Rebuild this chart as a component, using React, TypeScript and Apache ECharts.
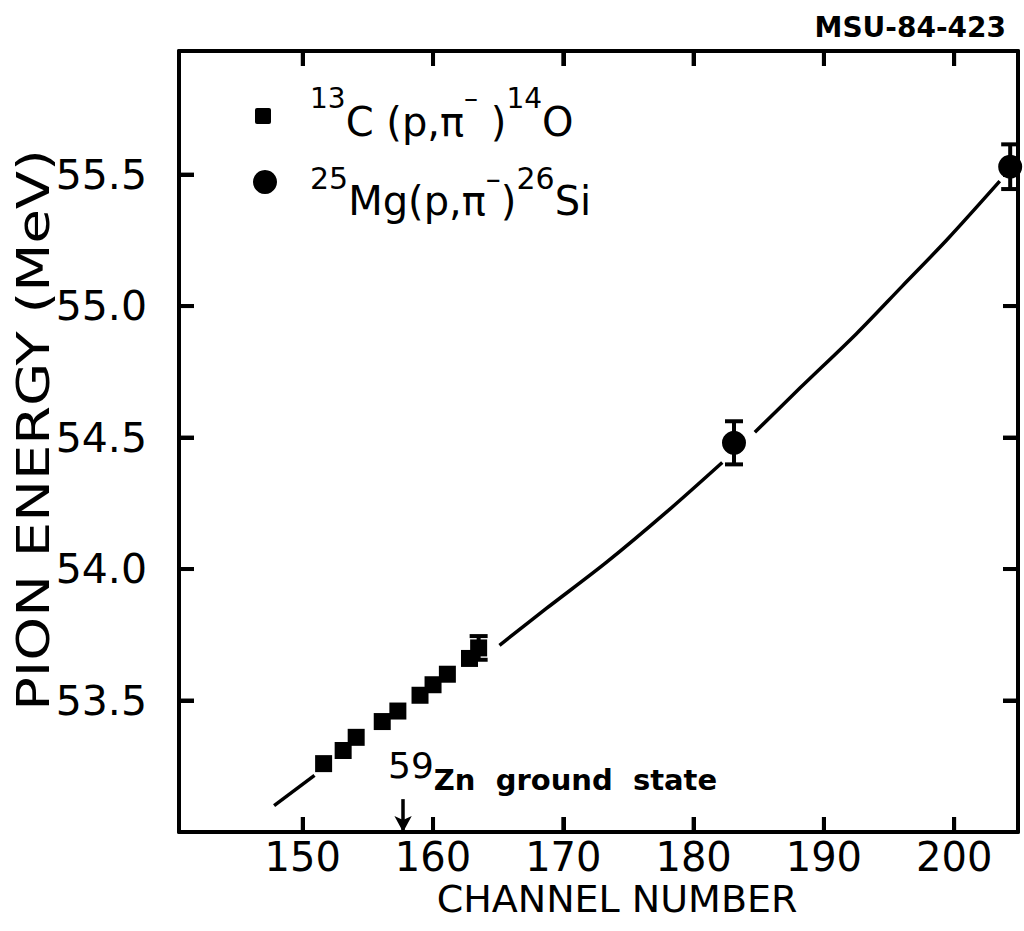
import React, { useEffect, useRef } from "react";
import * as echarts from "echarts";

const FONT = "DejaVu Sans";

const xTicks = [150, 160, 170, 180, 190, 200];
const yTicks = [53.5, 54.0, 54.5, 55.0, 55.5];

// 13C(p,pi-)14O calibration points
const carbonChannel = [151.6, 153.1, 154.1, 156.1, 157.3, 159.0, 160.0, 161.1, 162.8, 163.5];
const carbonEnergy = [53.26, 53.31, 53.36, 53.42, 53.46, 53.52, 53.56, 53.60, 53.66, 53.70];
const carbonError = [0, 0, 0, 0, 0, 0, 0, 0, 0, 0.045];

// 25Mg(p,pi-)26Si calibration points
const mgChannel = [183.1, 204.3];
const mgEnergy = [54.48, 55.53];
const mgError = [0.082, 0.085];

// fitted calibration curve (drawn in three pieces)
const fitSeg1Channel = [147.8, 150.9];
const fitSeg1Energy = [53.1, 53.215];
const fitSeg2Channel = [165.1, 168.7, 173.3, 178.0, 182.2];
const fitSeg2Energy = [53.71, 53.85, 54.025, 54.22, 54.405];
const fitSeg3Channel = [184.7, 188.2, 192.5, 196.0, 199.5, 203.5];
const fitSeg3Energy = [54.52, 54.69, 54.895, 55.075, 55.255, 55.475];

// 59Zn ground state marker
const znChannel = 157.7;

const X_MIN = 140.5;
const X_MAX = 204.9;
const Y_MIN = 53.0;
const Y_MAX = 55.97;

const zip = (a: number[], b: number[]) => a.map((v, i) => [v, b[i]]);
const isTick = (list: number[], v: number) => list.some((t) => Math.abs(t - v) < 1e-6);

export default function App() {
  const ref = useRef<HTMLDivElement>(null);
  useEffect(() => {
    if (!ref.current) return;
    const chart = echarts.init(ref.current, undefined, { renderer: "svg" });
    const axisLine = { show: true, onZero: false, lineStyle: { color: "#000", width: 4 } };
    const tick = { show: true, inside: true, length: 15, lineStyle: { color: "#000", width: 4 } };
    const xBase = { type: "value", min: X_MIN, max: X_MAX, splitNumber: 6, splitLine: { show: false }, axisTick: tick };
    const yBase = { type: "value", min: Y_MIN, max: Y_MAX, interval: 0.5, splitLine: { show: false }, axisTick: tick };
    const TL = 15;
    // tick length in data units (plot is 781 px tall for 2.97 MeV, 839 px wide for 64.4 channels)
    const dy = (TL * (Y_MAX - Y_MIN)) / 781;
    const dx = (TL * (X_MAX - X_MIN)) / 839;

    const fitSeries = [
      zip(fitSeg1Channel, fitSeg1Energy),
      zip(fitSeg2Channel, fitSeg2Energy),
      zip(fitSeg3Channel, fitSeg3Energy),
    ].map((d) => ({
      type: "line",
      data: d,
      smooth: 0.3,
      showSymbol: false,
      symbol: "none",
      lineStyle: { color: "#000", width: 3.5 },
      silent: true,
      z: 2,
    }));

    const errData = [
      ...carbonChannel.map((c, i) => [c, carbonEnergy[i], carbonError[i]]),
      ...mgChannel.map((c, i) => [c, mgEnergy[i], mgError[i]]),
      ...xTicks.map((v) => [v, 54.0, -1]),
      ...yTicks.map((v) => [170, v, -2]),
    ];

    const tickLines: any[] = [];
    xTicks.forEach((v) => {
      tickLines.push([{ coord: [v, Y_MIN] }, { coord: [v, Y_MIN + dy] }]);
      tickLines.push([{ coord: [v, Y_MAX] }, { coord: [v, Y_MAX - dy] }]);
    });
    yTicks.forEach((v) => {
      tickLines.push([{ coord: [X_MIN, v] }, { coord: [X_MIN + dx, v] }]);
      tickLines.push([{ coord: [X_MAX, v] }, { coord: [X_MAX - dx, v] }]);
    });

    chart.setOption({
      animation: false,
      backgroundColor: "#fff",
      grid: { left: 179, right: 6, top: 51, bottom: 99, containLabel: false },
      xAxis: [
        {
          ...xBase,
          position: "bottom",
          axisLine,
          axisLabel: {
            show: true,
            showMinLabel: false,
            showMaxLabel: false,
            formatter: (v: number) => (isTick(xTicks, v) ? String(Math.round(v)) : ""),
            fontSize: 40,
            lineHeight: 40,
            fontFamily: FONT,
            color: "#000",
            margin: 5,
          },
        },
        { ...xBase, position: "top", axisLine, axisLabel: { show: false } },
      ],
      yAxis: [
        {
          ...yBase,
          position: "left",
          axisLine,
          axisLabel: {
            show: true,
            showMinLabel: false,
            showMaxLabel: false,
            formatter: (v: number) => (isTick(yTicks, v) ? v.toFixed(1) : ""),
            fontSize: 41,
            fontFamily: FONT,
            color: "#000",
            margin: 32,
          },
        },
        { ...yBase, position: "right", axisLine, axisLabel: { show: false } },
      ],
      series: [
        ...fitSeries,
        {
          type: "custom",
          clip: false,
          silent: true,
          z: 3,
          data: errData,
          encode: { x: 0, y: 1 },
          renderItem: (_p: any, api: any) => {
            const x = api.value(0);
            const y = api.value(1);
            const e = api.value(2);
            if (!e) return null;
            const st = { stroke: "#000", lineWidth: 4 };
            if (e < -1.5) {
              const l = api.coord([X_MIN, y]);
              const r = api.coord([X_MAX, y]);
              return {
                type: "group",
                children: [
                  { type: "line", shape: { x1: l[0], y1: l[1], x2: l[0] + TL, y2: l[1] }, style: st },
                  { type: "line", shape: { x1: r[0], y1: r[1], x2: r[0] - TL, y2: r[1] }, style: st },
                ],
              };
            }
            if (e < 0) {
              const b = api.coord([x, Y_MIN]);
              const t = api.coord([x, Y_MAX]);
              return {
                type: "group",
                children: [
                  { type: "line", shape: { x1: b[0], y1: b[1], x2: b[0], y2: b[1] - TL }, style: st },
                  { type: "line", shape: { x1: t[0], y1: t[1], x2: t[0], y2: t[1] + TL }, style: st },
                ],
              };
            }
            const t = api.coord([x, y + e]);
            const b = api.coord([x, y - e]);
            const hw = 9;
            return {
              type: "group",
              children: [
                { type: "line", shape: { x1: t[0], y1: t[1], x2: b[0], y2: b[1] }, style: st },
                { type: "line", shape: { x1: t[0] - hw, y1: t[1], x2: t[0] + hw, y2: t[1] }, style: st },
                { type: "line", shape: { x1: b[0] - hw, y1: b[1], x2: b[0] + hw, y2: b[1] }, style: st },
              ],
            };
          },
        },
        {
          name: "13C",
          type: "scatter",
          symbol: "rect",
          symbolSize: 17,
          itemStyle: { color: "#000", opacity: 1, borderRadius: 2 },
          data: zip(carbonChannel, carbonEnergy),
          z: 4,
          silent: true,
          markLine: {
            silent: true,
            symbol: ["none", "arrow"],
            symbolSize: [13, 16],
            label: { show: false },
            lineStyle: { color: "#000", width: 3.5, type: "solid", opacity: 1 },
            data: [[{ coord: [znChannel, 53.125] }, { coord: [znChannel, Y_MIN] }]],
          },
        },
        {
          name: "25Mg",
          type: "scatter",
          symbol: "circle",
          symbolSize: 24,
          itemStyle: { color: "#000", opacity: 1 },
          data: zip(mgChannel, mgEnergy),
          z: 4,
          silent: true,
          clip: false,
          markLine: {
            silent: true,
            symbol: ["none", "none"],
            label: { show: false },
            lineStyle: { color: "#000", width: 4, type: "solid", opacity: 1 },
            data: tickLines,
          },
        },
      ],
      graphic: [
        {
          type: "text",
          right: 18,
          top: 13,
          style: { text: "MSU-84-423", font: `bold 28px "${FONT}"`, fill: "#000" },
        },
        {
          type: "text",
          x: 617,
          y: 899,
          style: {
            text: "CHANNEL NUMBER",
            font: `38px "${FONT}"`,
            fill: "#000",
            align: "center",
            verticalAlign: "middle",
          },
        },
        {
          type: "text",
          x: 34,
          y: 430,
          rotation: Math.PI / 2,
          scaleX: 1.27,
          style: {
            text: "PION ENERGY (MeV)",
            font: `44px "${FONT}"`,
            fill: "#000",
            align: "center",
            verticalAlign: "middle",
          },
        },
        // legend
        { type: "rect", shape: { x: 255, y: 108, width: 16, height: 16, r: 2 }, style: { fill: "#000" } },
        { type: "circle", shape: { cx: 265, cy: 182, r: 12 }, style: { fill: "#000" } },
        {
          type: "text",
          x: 310,
          y: 84,
          style: {
            text: "{s|13}{m|C (p,π}{s|–}{m| )}{s|14}{m|O}",
            fill: "#000",
            rich: {
              s: { fontSize: 28, fontFamily: FONT, verticalAlign: "top", lineHeight: 58 },
              m: { fontSize: 40, fontFamily: FONT, verticalAlign: "bottom", lineHeight: 58 },
            },
          },
        },
        {
          type: "text",
          x: 310,
          y: 163,
          style: {
            text: "{s|25}{m|Mg(p,π}{s|–}{m|)}{s|26}{m|Si}",
            fill: "#000",
            rich: {
              s: { fontSize: 30, fontFamily: FONT, verticalAlign: "top", lineHeight: 58 },
              m: { fontSize: 40, fontFamily: FONT, verticalAlign: "bottom", lineHeight: 58 },
            },
          },
        },
        {
          type: "text",
          x: 388,
          y: 747,
          style: {
            text: "{s|59}{m|Zn  ground  state}",
            fill: "#000",
            rich: {
              s: { fontSize: 36, fontFamily: FONT, verticalAlign: "top", lineHeight: 47 },
              m: { fontSize: 29, fontFamily: FONT, fontWeight: "bold", verticalAlign: "bottom", lineHeight: 47 },
            },
          },
        },
      ],
    });

    return () => chart.dispose();
  }, []);
  return <div ref={ref} style={{ width: 1024, height: 931, position: "absolute", left: 0, top: 0 }} />;
}
